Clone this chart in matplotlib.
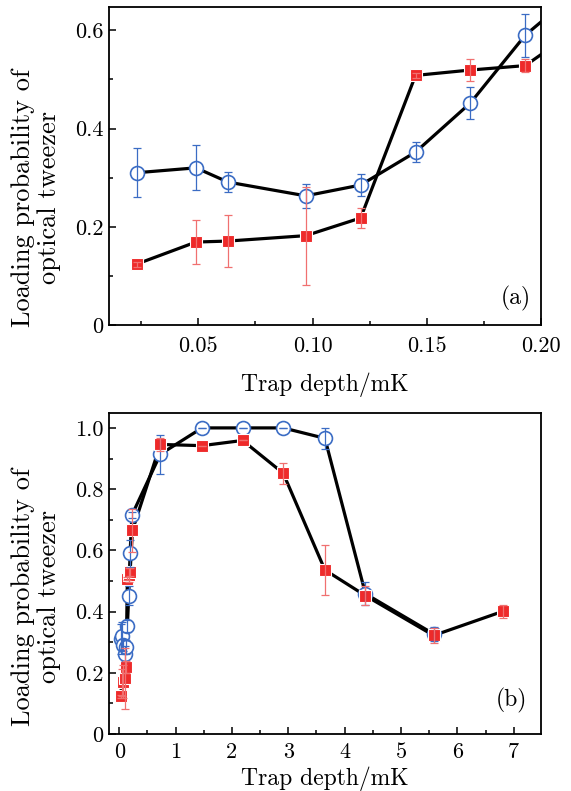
import matplotlib
matplotlib.use('Agg')
import matplotlib.pyplot as plt
from matplotlib.ticker import MultipleLocator

plt.rcParams['font.family'] = ['cmr10', 'DejaVu Serif']
plt.rcParams['mathtext.fontset'] = 'cm'
plt.rcParams['axes.formatter.use_mathtext'] = True

# data (trap depth in mK)
depth_blue = [0.023, 0.049, 0.063, 0.097, 0.121, 0.145, 0.169, 0.193, 0.225,
              0.73, 1.47, 2.19, 2.91, 3.65, 4.37, 5.58]
prob_blue = [0.310, 0.320, 0.291, 0.263, 0.285, 0.352, 0.452, 0.590, 0.715,
             0.914, 1.0, 1.0, 1.0, 0.966, 0.458, 0.327]
err_blue = [0.050, 0.046, 0.021, 0.025, 0.022, 0.020, 0.032, 0.044, 0.01,
            0.064, 0.0, 0.0, 0.0, 0.035, 0.038, 0.024]

depth_red = [0.023, 0.049, 0.063, 0.097, 0.121, 0.145, 0.169, 0.193, 0.235,
             0.73, 1.47, 2.19, 2.91, 3.65, 4.37, 5.58, 6.81]
prob_red = [0.124, 0.169, 0.171, 0.182, 0.218, 0.508, 0.519, 0.528, 0.665,
            0.946, 0.942, 0.959, 0.852, 0.536, 0.452, 0.322, 0.401]
err_red = [0.005, 0.044, 0.053, 0.100, 0.020, 0.005, 0.023, 0.013, 0.070,
           0.020, 0.0, 0.0, 0.034, 0.082, 0.030, 0.024, 0.022]

blue = '#3b6cc4'
red = '#ee2a2a'
ylab = 'Loading probability of\noptical tweezer'

fig = plt.figure(figsize=(5.71, 7.91), dpi=100)
ax_a = fig.add_axes([0.191, 0.589, 0.757, 0.402])
ax_b = fig.add_axes([0.191, 0.072, 0.757, 0.406])


def draw(ax):
    ax.errorbar(depth_blue, prob_blue, yerr=err_blue, fmt='none', ecolor=blue,
                elinewidth=0.9, capsize=3, capthick=0.9, zorder=4)
    ax.errorbar(depth_red, prob_red, yerr=err_red, fmt='none', ecolor='#f07070',
                elinewidth=0.9, capsize=3, capthick=0.9, zorder=4)
    ax.plot(depth_blue, prob_blue, color='black', lw=2.3, zorder=2)
    ax.plot(depth_red, prob_red, color='black', lw=2.3, zorder=2)
    ax.plot(depth_blue, prob_blue, 'o', ms=10, mfc='white', mec=blue, mew=1.2,
            ls='none', zorder=3)
    ax.plot(depth_red, prob_red, 's', ms=9.3, mfc=red, mec='white', mew=0.8,
            ls='none', zorder=3)
    ax.tick_params(which='both', direction='in', labelsize=16, width=1.1,
                   top=False, right=False)
    ax.tick_params(which='major', length=5)
    ax.tick_params(which='minor', length=3)
    ax.tick_params(axis='y', pad=4)
    for s in ax.spines.values():
        s.set_linewidth(1.3)


draw(ax_a)
ax_a.set_xlim(0.011, 0.20)
ax_a.set_ylim(0, 0.647)
ax_a.set_xticks([0.05, 0.10, 0.15, 0.20], ['0.05', '0.10', '0.15', '0.20'])
ax_a.set_yticks([0, 0.2, 0.4, 0.6], ['0', '0.2', '0.4', '0.6'])
ax_a.xaxis.set_minor_locator(MultipleLocator(0.025))
ax_a.yaxis.set_minor_locator(MultipleLocator(0.1))
ax_a.tick_params(axis='x', pad=8)
ax_a.set_xlabel('Trap depth/mK', fontsize=17, labelpad=12)
ax_a.set_ylabel(ylab, fontsize=19, linespacing=1.12, va='center')
ax_a.yaxis.set_label_coords(-0.168, 0.40)
ax_a.text(0.94, 0.085, '(a)', transform=ax_a.transAxes, fontsize=17,
          ha='center', va='center')

draw(ax_b)
ax_b.set_xlim(-0.18, 7.49)
ax_b.set_ylim(0, 1.049)
ax_b.set_xticks(range(8), [str(i) for i in range(8)])
ax_b.set_yticks([0, 0.2, 0.4, 0.6, 0.8, 1.0], ['0', '0.2', '0.4', '0.6', '0.8', '1.0'])
ax_b.xaxis.set_minor_locator(MultipleLocator(0.5))
ax_b.yaxis.set_minor_locator(MultipleLocator(0.1))
ax_b.tick_params(axis='x', pad=6)
ax_b.set_xlabel('Trap depth/mK', fontsize=17, labelpad=3)
ax_b.set_ylabel(ylab, fontsize=19, linespacing=1.12, va='center')
ax_b.yaxis.set_label_coords(-0.168, 0.427)
ax_b.text(0.932, 0.106, '(b)', transform=ax_b.transAxes, fontsize=17,
          ha='center', va='center')

fig.savefig('out.png', dpi=100)
